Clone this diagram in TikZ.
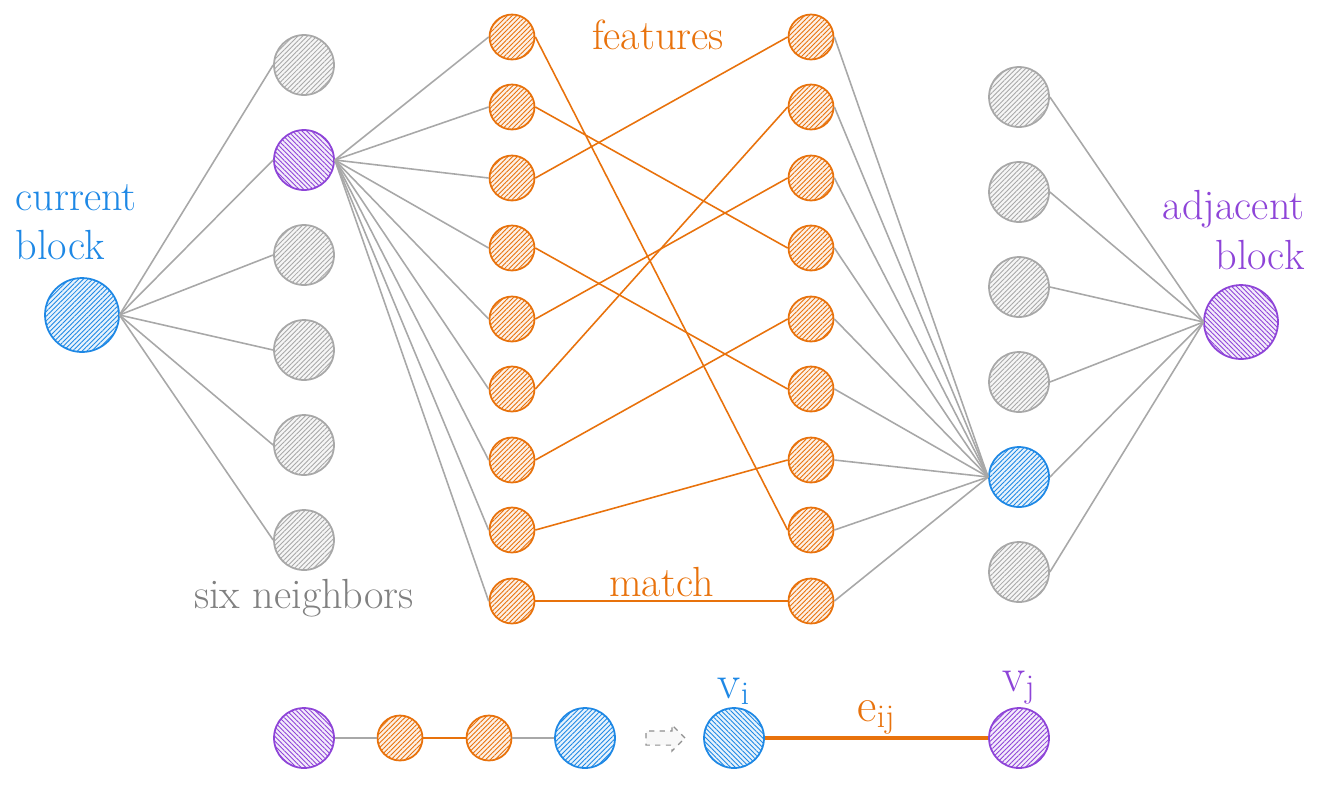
\documentclass[tikz,border=0pt]{standalone}
\usepackage{tikz}
\usetikzlibrary{patterns.meta,shapes.arrows}
\definecolor{blockBlue}{HTML}{1E88E5}
\definecolor{blockPurple}{HTML}{8E44D8}
\definecolor{featOrange}{HTML}{E8720C}
\definecolor{linkGray}{HTML}{A8A8A8}
\definecolor{textGray}{HTML}{808080}
\newcommand{\labelFont}{\fontsize{24}{28}\selectfont}
\newcommand{\symbolFont}{\fontsize{27}{30}\selectfont}

\begin{document}
\begin{tikzpicture}[x=0.02cm, y=-0.02cm, line width=0.9pt]
        \tikzset{
           hatched/.style={
                        circle,
                        inner sep=0pt,
                        line width=1pt,
                        draw=#1,
                        preaction={fill=#1!10},
                        pattern={Lines[angle=45,distance=1.9pt,line width=0.5pt]},
                        pattern color=#1
                       },
           backHatch/.style={
                        pattern={Lines[angle=-45,distance=1.9pt,line width=0.5pt]}
                       },
           blockNode/.style={
                        hatched=#1,
                        minimum size=1.48cm
                       },
           neighbor/.style={
                        hatched=#1,
                        minimum size=1.2cm
                       },
           feature/.style={
                        hatched=featOrange,
                        minimum size=0.9cm
                       },
           grayLink/.style={
                        draw=linkGray,
                        line width=0.9pt
                       },
           matchLink/.style={
                        draw=featOrange,
                        line width=0.9pt
                       },
           edgeLink/.style={
                        draw=featOrange,
                        line width=2pt
                       },
           caption/.style={
                        font=\labelFont,
                        text=#1,
                        inner sep=1pt
                       },
           hintArrow/.style={
                        single arrow,
                        draw=linkGray!85!black,
                        dashed,
                        fill=linkGray!8,
                        line width=0.7pt,
                        inner sep=0pt,
                        text height=0.26cm,
                        minimum height=0.78cm,
                        single arrow head extend=0.12cm
                       },
                 }
    \useasboundingbox (0,0) rectangle (1324,792);
    %--------------------
        \node[blockNode=blockBlue]              (currentBlock)  at (82,315)   {};
        \node[blockNode=blockPurple, backHatch] (adjacentBlock) at (1241,322)  {};

        \node[neighbor=linkGray]                (nbrL1)         at (304,65)   {};
        \node[neighbor=blockPurple, backHatch]  (nbrL2)         at (304,160)  {};
        \node[neighbor=linkGray]                (nbrL3)         at (304,255)  {};
        \node[neighbor=linkGray]                (nbrL4)         at (304,350)  {};
        \node[neighbor=linkGray]                (nbrL5)         at (304,445)  {};
        \node[neighbor=linkGray]                (nbrL6)         at (304,540)  {};

        \node[feature]                          (featL1)        at (512,37)   {};
        \node[feature]                          (featL2)        at (512,107)  {};
        \node[feature]                          (featL3)        at (512,178)  {};
        \node[feature]                          (featL4)        at (512,248)  {};
        \node[feature]                          (featL5)        at (512,319)  {};
        \node[feature]                          (featL6)        at (512,389)  {};
        \node[feature]                          (featL7)        at (512,460)  {};
        \node[feature]                          (featL8)        at (512,530)  {};
        \node[feature]                          (featL9)        at (512,601)  {};

        \node[feature]                          (featR1)        at (811,37)   {};
        \node[feature]                          (featR2)        at (811,107)  {};
        \node[feature]                          (featR3)        at (811,178)  {};
        \node[feature]                          (featR4)        at (811,248)  {};
        \node[feature]                          (featR5)        at (811,319)  {};
        \node[feature]                          (featR6)        at (811,389)  {};
        \node[feature]                          (featR7)        at (811,460)  {};
        \node[feature]                          (featR8)        at (811,530)  {};
        \node[feature]                          (featR9)        at (811,601)  {};

        \node[neighbor=linkGray]                (nbrR1)         at (1019,97)  {};
        \node[neighbor=linkGray]                (nbrR2)         at (1019,192) {};
        \node[neighbor=linkGray]                (nbrR3)         at (1019,287) {};
        \node[neighbor=linkGray]                (nbrR4)         at (1019,382) {};
        \node[neighbor=blockBlue]               (nbrR5)         at (1019,477) {};
        \node[neighbor=linkGray]                (nbrR6)         at (1019,572) {};

        \node[neighbor=blockPurple, backHatch]  (pairA)         at (304,738)  {};
        \node[feature]                          (pairB)         at (400,738)  {};
        \node[feature]                          (pairC)         at (489,738)  {};
        \node[neighbor=blockBlue]               (pairD)         at (585,738)  {};
        \node[hintArrow]                        (arrowHint)     at (662,738)  {};
        \node[neighbor=blockBlue, backHatch]    (vertexI)       at (734,738)  {};
        \node[neighbor=blockPurple]             (vertexJ)       at (1019,738) {};
    %--------------------
        \node[caption=blockBlue, anchor=west, align=left]    (currentLabel)   at (13,222)  {current\\block};
        \node[caption=blockPurple, anchor=east, align=right] (adjacentLabel)  at (1307,230) {adjacent\\block};
        \node[caption=featOrange]                            (featuresLabel)  at (658,35)   {features};
        \node[caption=textGray]                              (neighborsLabel) at (304,598)  {six neighbors};
        \node[caption=blockBlue, font=\symbolFont, anchor=south]   (viLabel) at (vertexI.north) {v\textsubscript{i}};
        \node[caption=blockPurple, font=\symbolFont, anchor=south] (vjLabel) at (vertexJ.north) {v\textsubscript{j}};
    %--------------------
        \path[every edge/.style=grayLink]
              (currentBlock.east) edge (nbrL1.west)
              (currentBlock.east) edge (nbrL2.west)
              (currentBlock.east) edge (nbrL3.west)
              (currentBlock.east) edge (nbrL4.west)
              (currentBlock.east) edge (nbrL5.west)
              (currentBlock.east) edge (nbrL6.west)

              (nbrL2.east)        edge (featL1.west)
              (nbrL2.east)        edge (featL2.west)
              (nbrL2.east)        edge (featL3.west)
              (nbrL2.east)        edge (featL4.west)
              (nbrL2.east)        edge (featL5.west)
              (nbrL2.east)        edge (featL6.west)
              (nbrL2.east)        edge (featL7.west)
              (nbrL2.east)        edge (featL8.west)
              (nbrL2.east)        edge (featL9.west)

              (featR1.east)       edge (nbrR5.west)
              (featR2.east)       edge (nbrR5.west)
              (featR3.east)       edge (nbrR5.west)
              (featR4.east)       edge (nbrR5.west)
              (featR5.east)       edge (nbrR5.west)
              (featR6.east)       edge (nbrR5.west)
              (featR7.east)       edge (nbrR5.west)
              (featR8.east)       edge (nbrR5.west)
              (featR9.east)       edge (nbrR5.west)

              (nbrR1.east)        edge (adjacentBlock.west)
              (nbrR2.east)        edge (adjacentBlock.west)
              (nbrR3.east)        edge (adjacentBlock.west)
              (nbrR4.east)        edge (adjacentBlock.west)
              (nbrR5.east)        edge (adjacentBlock.west)
              (nbrR6.east)        edge (adjacentBlock.west)

              (pairA)             edge (pairB)
              (pairC)             edge (pairD);

        \path[every edge/.style=matchLink]
              (featL1.east)       edge (featR8.west)
              (featL2.east)       edge (featR4.west)
              (featL3.east)       edge (featR1.west)
              (featL4.east)       edge (featR6.west)
              (featL5.east)       edge (featR3.west)
              (featL6.east)       edge (featR2.west)
              (featL7.east)       edge (featR5.west)
              (featL8.east)       edge (featR7.west)
              (featL9.east)       edge node[caption=featOrange, above=1pt] (matchLabel) {match} (featR9.west)

              (pairB)             edge (pairC);

        \path (vertexI) edge[edgeLink] node[caption=featOrange, font=\symbolFont, above=0pt] (eijLabel) {e\textsubscript{ij}} (vertexJ);
    \end{tikzpicture}
\end{document}
